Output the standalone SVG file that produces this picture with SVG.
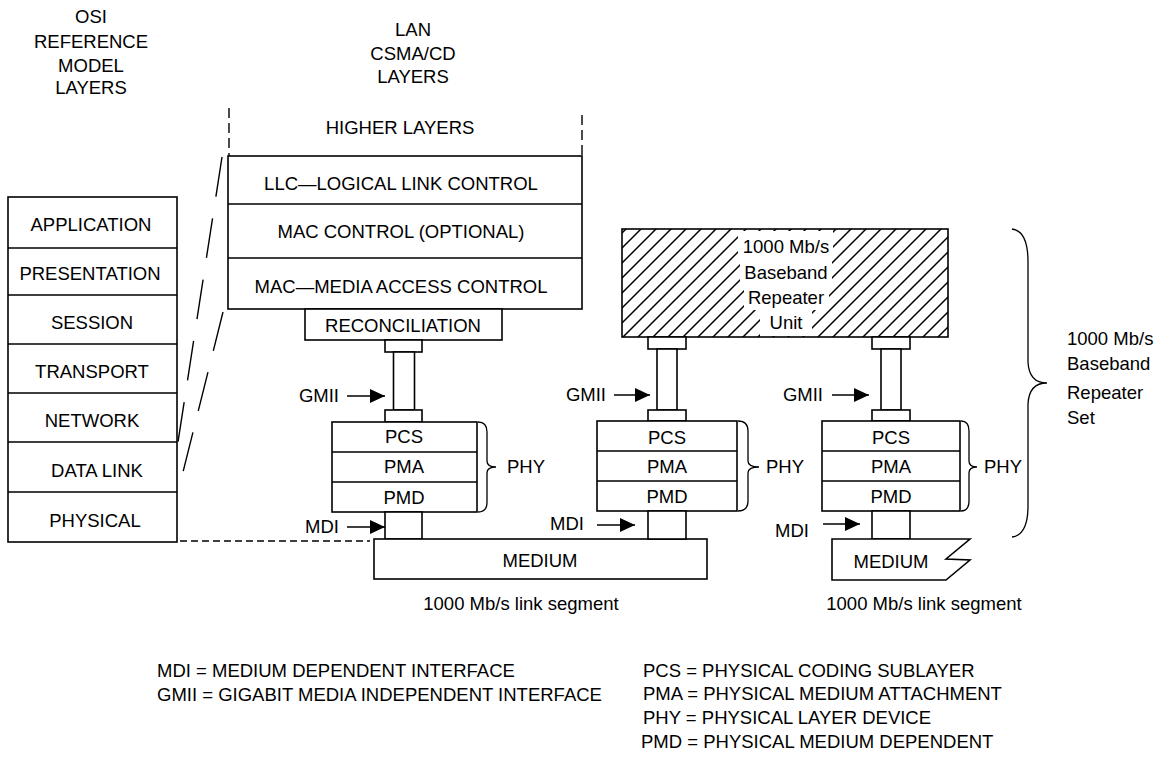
<svg xmlns="http://www.w3.org/2000/svg" width="1154" height="766" viewBox="0 0 1154 766">
<defs>
<style>
text{font-family:"Liberation Sans",Arial,Helvetica,sans-serif;font-size:18.5px;fill:#000}
.c{text-anchor:middle}
.e{text-anchor:end}
.b{fill:#fff;stroke:#000;stroke-width:1.6}
.ln{fill:none;stroke:#000;stroke-width:1.6}
.vd{fill:none;stroke:#000;stroke-width:1.4;stroke-dasharray:10 5}
.sd{fill:none;stroke:#000;stroke-width:1.4;stroke-dasharray:40 22}
.hd{fill:none;stroke:#000;stroke-width:1.4;stroke-dasharray:7 4}
.ar{fill:none;stroke:#000;stroke-width:1.6;marker-end:url(#arr)}
.br{fill:none;stroke:#000;stroke-width:1.3}
</style>
<pattern id="hatch" patternUnits="userSpaceOnUse" width="15" height="15">
<path d="M-4,4 L4,-4 M0,15 L15,0 M11,19 L19,11" stroke="#000" stroke-width="1.5"/>
</pattern>
<marker id="arr" markerUnits="userSpaceOnUse" markerWidth="15" markerHeight="14" refX="15" refY="7" orient="auto">
<path d="M0,0 L15,7 L0,14 z" fill="#000"/>
</marker>
</defs>
<rect width="1154" height="766" fill="#fff"/>

<g id="titles">
<text class="c" x="91" y="23">OSI</text>
<text class="c" x="91" y="48">REFERENCE</text>
<text class="c" x="91" y="72">MODEL</text>
<text class="c" x="91" y="94">LAYERS</text>
<text class="c" x="413" y="36">LAN</text>
<text class="c" x="413" y="60">CSMA/CD</text>
<text class="c" x="413" y="83">LAYERS</text>
</g>

<g id="osi-stack">
<rect class="b" x="8" y="197" width="169" height="345"/>
<path class="ln" d="M8,248 H177 M8,295 H177 M8,344 H177 M8,393 H177 M8,442 H177 M8,492 H177"/>
<text class="c" x="91" y="231">APPLICATION</text>
<text class="c" x="90" y="280">PRESENTATION</text>
<text class="c" x="92" y="329">SESSION</text>
<text class="c" x="92" y="378">TRANSPORT</text>
<text class="c" x="92" y="427">NETWORK</text>
<text class="c" x="97" y="477">DATA LINK</text>
<text class="c" x="95" y="527">PHYSICAL</text>
</g>

<g id="lan-stack">
<path class="vd" d="M229,108 V156 M582,115 V156"/>
<text class="c" x="400" y="134">HIGHER LAYERS</text>
<rect class="b" x="228" y="156" width="354" height="153"/>
<path class="ln" d="M228,204 H582 M228,258 H582"/>
<text class="c" x="401" y="190">LLC—LOGICAL LINK CONTROL</text>
<text class="c" x="401" y="238">MAC CONTROL (OPTIONAL)</text>
<text class="c" x="401" y="293">MAC—MEDIA ACCESS CONTROL</text>
</g>

<g id="reconciliation">
<rect class="b" x="305" y="309" width="197" height="31"/>
<text class="c" x="403" y="332">RECONCILIATION</text>
</g>

<g id="gmii-left">
<rect class="b" x="385" y="340" width="37" height="12"/>
<rect class="b" x="393.5" y="352" width="21" height="58"/>
<rect class="b" x="385" y="410" width="37" height="12"/>
</g>

<g id="phy-left">
<rect class="b" x="332" y="422" width="145" height="90"/>
<path class="ln" d="M332,452 H477 M332,482 H477"/>
<text class="c" x="404" y="443">PCS</text>
<text class="c" x="404" y="473">PMA</text>
<text class="c" x="404" y="504">PMD</text>
<path class="br" d="M478,422 Q487,422 487,432 L487,461 Q487,467 496,467 Q487,467 487,473 L487,502 Q487,512 478,512"/>
<text x="507" y="473">PHY</text>
</g>

<g id="mdi-left">
<rect class="b" x="385" y="512" width="37" height="27"/>
</g>

<g id="medium-left">
<rect class="b" x="374" y="539" width="333" height="40"/>
<text class="c" x="540" y="567">MEDIUM</text>
<text class="c" x="521" y="610">1000 Mb/s link segment</text>
</g>

<g id="repeater-unit">
<rect x="622" y="229" width="326" height="108" fill="url(#hatch)" stroke="#000" stroke-width="1.6"/>
<rect x="738" y="231" width="95" height="27" fill="#fff"/>
<rect x="740" y="258" width="92" height="26" fill="#fff"/>
<rect x="744" y="284" width="85" height="26" fill="#fff"/>
<rect x="760" y="310" width="52" height="26" fill="#fff"/>
<text class="c" x="786" y="253">1000 Mb/s</text>
<text class="c" x="786" y="279">Baseband</text>
<text class="c" x="786" y="304">Repeater</text>
<text class="c" x="786" y="329">Unit</text>
</g>

<g id="gmii-mid">
<rect class="b" x="648" y="337" width="38" height="12"/>
<rect class="b" x="657" y="349" width="20" height="61"/>
<rect class="b" x="648" y="410" width="38" height="11"/>
</g>

<g id="phy-mid">
<rect class="b" x="597" y="421" width="140" height="90"/>
<path class="ln" d="M597,451 H737 M597,481 H737"/>
<text class="c" x="667" y="444">PCS</text>
<text class="c" x="667" y="473">PMA</text>
<text class="c" x="667" y="503">PMD</text>
<path class="br" d="M738,421 Q748,421 748,431 L748,461 Q748,467 759,467 Q748,467 748,473 L748,501 Q748,511 738,511"/>
<text x="766" y="473">PHY</text>
</g>

<g id="mdi-mid">
<rect class="b" x="648" y="511" width="38" height="28"/>
</g>

<g id="gmii-right">
<rect class="b" x="872" y="337" width="38" height="12"/>
<rect class="b" x="881" y="349" width="20" height="61"/>
<rect class="b" x="872" y="410" width="38" height="11"/>
</g>

<g id="phy-right">
<rect class="b" x="822" y="421" width="138" height="90"/>
<path class="ln" d="M822,451 H960 M822,481 H960"/>
<text class="c" x="891" y="444">PCS</text>
<text class="c" x="891" y="473">PMA</text>
<text class="c" x="891" y="503">PMD</text>
<path class="br" d="M961,421 Q969,421 969,431 L969,461 Q969,467 977,467 Q969,467 969,473 L969,501 Q969,511 961,511"/>
<text x="984" y="473">PHY</text>
</g>

<g id="mdi-right">
<rect class="b" x="872" y="511" width="38" height="28"/>
</g>

<g id="medium-right">
<path class="b" d="M832,539 L970,539 L946,559 L970,560 L946,580 L832,580 Z"/>
<text class="c" x="891" y="568">MEDIUM</text>
<text class="c" x="924" y="610">1000 Mb/s link segment</text>
</g>

<g id="repeater-set">
<path class="br" d="M1012,229 Q1028,231 1028,262 L1028,362 Q1029,383 1047,383 Q1029,383 1028,404 L1028,506 Q1028,535 1012,537"/>
<text x="1067" y="345">1000 Mb/s</text>
<text x="1067" y="370">Baseband</text>
<text x="1067" y="399">Repeater</text>
<text x="1067" y="424">Set</text>
</g>

<g id="connectors">
<path class="sd" d="M222,157 L178,442"/>
<path class="sd" d="M223,312 L178,492"/>
<path class="hd" d="M180,541 H370"/>
<text class="e" x="339" y="402">GMII</text>
<line class="ar" x1="347" y1="396" x2="385" y2="396"/>
<text class="e" x="339" y="533">MDI</text>
<line class="ar" x1="347" y1="527" x2="385" y2="527"/>
<text class="e" x="606" y="401">GMII</text>
<line class="ar" x1="614" y1="395" x2="650" y2="395"/>
<text class="e" x="584" y="530">MDI</text>
<line class="ar" x1="597" y1="525" x2="635" y2="525"/>
<text class="e" x="823" y="401">GMII</text>
<line class="ar" x1="832" y1="395" x2="869" y2="395"/>
<text class="e" x="809" y="537">MDI</text>
<line class="ar" x1="823" y1="524" x2="860" y2="524"/>
</g>

<g id="legend">
<text x="157" y="677">MDI = MEDIUM DEPENDENT INTERFACE</text>
<text x="157" y="701">GMII = GIGABIT MEDIA INDEPENDENT INTERFACE</text>
<text x="643" y="677">PCS = PHYSICAL CODING SUBLAYER</text>
<text x="643" y="700">PMA = PHYSICAL MEDIUM ATTACHMENT</text>
<text x="643" y="724">PHY = PHYSICAL LAYER DEVICE</text>
<text x="641" y="748">PMD = PHYSICAL MEDIUM DEPENDENT</text>
</g>
</svg>
